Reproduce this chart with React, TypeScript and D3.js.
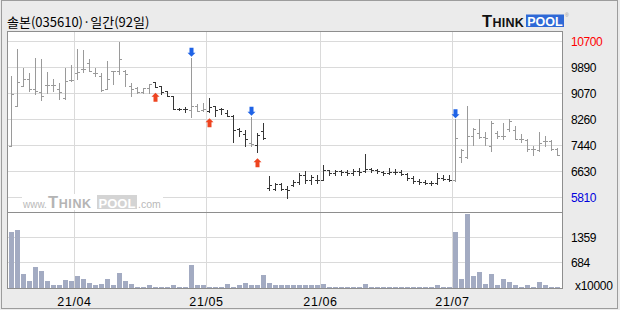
import React from 'react';
import * as d3 from 'd3';

const W = 620;
const H = 310;

const title = '솔본(035610)·일간(92일)';

const open = [
  7440, 8690, 9320, 9530, 9200, 9110, 9350, 9350, 9220, 8940,
  9480, 9720, 9840, 10030, 9720, 9630, 9220, 9770, 9790, 9790,
  9300, 9250, 9110, 9230, 9440, 9300, 9140, 8990, 8590, 8570,
  8550, 8690, 8550, 8520, 8670, 8590, 8470, 8380, 7960, 7790,
  7530, 7470, 7890, 6120, 6080, 6220, 6080, 6190, 6290, 6530,
  6370, 6370, 6370, 6660, 6580, 6630, 6600, 6580, 6630, 6630,
  6690, 6660, 6620, 6580, 6620, 6600, 6550, 6430, 6320, 6290,
  6270, 6250, 6430, 6400, 6370, 7090, 7090, 7750, 7840, 7710,
  7440, 7840, 7750, 7960, 7940, 7630, 7610, 7320, 7290, 7580,
  7580, 7320,
];
const high = [
  9610, 10450, 9880, 9720, 10190, 10160, 9750, 9530, 9410, 9880,
  9960, 10450, 10430, 10160, 9880, 9700, 10100, 9790, 10690, 9800,
  9410, 9280, 9250, 9380, 9440, 9320, 9160, 8990, 8610, 8640,
  10190, 8730, 8760, 8940, 8670, 8620, 8540, 8400, 7980, 7920,
  8340, 7820, 8130, 6480, 6270, 6270, 6160, 6370, 6580, 6630,
  6530, 6500, 6840, 6670, 6670, 6670, 6670, 6690, 6740, 7160,
  6740, 6710, 6630, 6740, 6710, 6670, 6580, 6480, 6400, 6370,
  6320, 6580, 6500, 6500, 8260, 7320, 8690, 8000, 8280, 7860,
  8200, 7890, 8150, 8280, 8050, 7790, 7650, 7440, 7860, 7730,
  7600, 7370,
];
const low = [
  7420, 8670, 9300, 9140, 9040, 8880, 9090, 9140, 8910, 8900,
  9460, 9510, 9740, 9770, 9610, 9140, 9220, 9370, 9670, 9320,
  8990, 9090, 9090, 9090, 9280, 9070, 8990, 8590, 8550, 8500,
  8340, 8520, 8520, 8480, 8360, 8430, 8380, 7540, 7750, 7420,
  7420, 7230, 7650, 6040, 6040, 6040, 5800, 6160, 6220, 6270,
  6220, 6250, 6350, 6530, 6530, 6530, 6500, 6530, 6530, 6620,
  6620, 6580, 6530, 6550, 6550, 6530, 6370, 6270, 6240, 6220,
  6200, 6220, 6350, 6320, 6320, 6920, 7050, 7470, 7680, 7470,
  7260, 7680, 7650, 7890, 7630, 7540, 7260, 7130, 7260, 7440,
  7290, 7130,
];
const close = [
  9070, 9440, 9540, 9200, 9160, 8990, 9350, 9350, 9120, 9460,
  9480, 9740, 9840, 9770, 9720, 9170, 9530, 9770, 10160, 9670,
  9220, 9110, 9230, 9380, 9280, 9110, 8990, 8590, 8570, 8570,
  8690, 8530, 8590, 8650, 8550, 8590, 8380, 7940, 7890, 7650,
  7480, 7780, 7680, 6190, 6220, 6080, 6060, 6290, 6530, 6370,
  6460, 6350, 6660, 6580, 6630, 6600, 6580, 6630, 6600, 6690,
  6660, 6630, 6580, 6620, 6600, 6550, 6430, 6320, 6290, 6270,
  6250, 6430, 6400, 6350, 7680, 7290, 7750, 7960, 7710, 7680,
  8150, 7750, 7730, 8200, 7650, 7630, 7320, 7320, 7530, 7580,
  7320, 7150,
];
const volume = [
  1503, 1566, 378, 189, 567, 467, 189, 81, 81, 216,
  189, 324, 243, 135, 81, 108, 243, 81, 405, 189,
  108, 40, 40, 81, 40, 40, 40, 81, 40, 40,
  621, 81, 81, 40, 40, 40, 108, 40, 81, 135,
  81, 81, 351, 135, 81, 81, 81, 81, 81, 81,
  81, 81, 108, 40, 40, 40, 40, 40, 40, 108,
  40, 40, 40, 40, 40, 40, 40, 40, 40, 40,
  40, 81, 40, 40, 1520, 243, 2000, 324, 440, 108,
  378, 81, 243, 162, 81, 40, 81, 40, 162, 81,
  40, 40,
];

const buySignals = [24, 33, 41];
const sellSignals = [30, 40, 74];

const monthLabels = ['21/04', '21/05', '21/06', '21/07'];
const monthStarts = [11, 33, 52, 74];

const priceTicks = [10700, 9885, 9070, 8255, 7440, 6625, 5810];
const volumeTicks = [1359, 684];
const volumeUnit = 'x10000';

const NUM_FONT = 'Liberation Sans, Arial, sans-serif';

export default function App() {
  const n = close.length;
  const x = d3.scaleLinear().domain([0, n - 1]).range([11.5, 557.5]);
  const y = d3.scaleLinear().domain([5810, 10700]).range([197.5, 41.5]);
  const yv = d3.scaleLinear().domain([0, 2052]).range([288, 212]);

  const plotL = 7.5, plotR = 562.5, plotT = 31.5, plotB = 288.5, sep = 212.5;

  let state = 'sell';
  const colors: string[] = [];
  for (let i = 0; i < n; i++) {
    if (buySignals.includes(i)) state = 'buy';
    if (sellSignals.includes(i)) state = 'sell';
    colors.push(state === 'buy' ? '#363636' : '#9a9a9a');
  }

  const r = (v: number) => Math.round(v);

  const priceColor = (i: number) =>
    i === 0 ? '#ff0000' : i === priceTicks.length - 1 ? '#0000dd' : '#000';

  return (
    <svg width={W} height={H} style={{ position: 'absolute', left: 0, top: 0 }}>
      <rect x={0} y={0} width={W} height={H} fill="#ebebeb" />
      <rect x={1.5} y={0.5} width={616} height={308} fill="none" stroke="#9c9c9c" />
      <rect x={plotL} y={plotT} width={plotR - plotL} height={plotB - plotT} fill="#fff" />

      {/* grid */}
      <g stroke="#dadada" shapeRendering="crispEdges">
        {priceTicks.map((t) => (
          <line key={'pg' + t} x1={plotL} x2={plotR} y1={r(y(t) - 0.5) + 0.5} y2={r(y(t) - 0.5) + 0.5} />
        ))}
        {volumeTicks.map((t) => (
          <line key={'vg' + t} x1={plotL} x2={plotR} y1={Math.floor(yv(t)) + 0.5} y2={Math.floor(yv(t)) + 0.5} />
        ))}
        {monthStarts.map((m) => (
          <line key={'mg' + m} x1={x(m - 0.5)} x2={x(m - 0.5)} y1={plotT} y2={plotB} />
        ))}
      </g>

      {/* watermark */}
      <g>
        <rect x={22} y={194} width={141} height={16} fill="#fff" />
        <text x={23} y={208} fontFamily={NUM_FONT} fontSize={10} fill="#b9b9b9">www.</text>
        <text x={48} y={208} fontFamily={NUM_FONT} fontWeight="bold" fill="#b4b4b4" letterSpacing={0.6}>
          <tspan fontSize={16.5}>T</tspan>
          <tspan fontSize={12.5}>HINK</tspan>
        </text>
        <rect x={97} y={195} width={40} height={14} fill="#d4d4d4" />
        <text x={117} y={207.5} textAnchor="middle" fontFamily={NUM_FONT} fontWeight="bold" fontSize={13} fill="#fff">POOL</text>
        <text x={138} y={208} fontFamily={NUM_FONT} fontSize={10.5} fill="#b9b9b9">.com</text>
      </g>

      {/* volume bars */}
      <g fill="#a3abc2" shapeRendering="crispEdges">
        {volume.map((v, i) => {
          const top = Math.min(yv(v), 287);
          return <rect key={'v' + i} x={x(i) - 2.5} y={top} width={5} height={288 - top} />;
        })}
      </g>

      {/* OHLC bars */}
      <g shapeRendering="crispEdges">
        {close.map((c, i) => {
          const yh = r(y(high[i]));
          const yl = r(y(low[i]));
          const yo = r(y(open[i]));
          const yc = r(y(c));
          const xc = x(i) - 0.5;
          return (
            <g key={'c' + i} fill={colors[i]}>
              <rect x={xc} y={yh} width={1} height={Math.max(1, yl - yh + 1)} />
              <rect x={xc - 2} y={yo} width={2} height={1} />
              <rect x={xc + 1} y={yc} width={2} height={1} />
            </g>
          );
        })}
      </g>

      {/* signals */}
      {buySignals.map((i) => {
        const xc = x(i);
        const t = y(low[i]) + 6;
        return (
          <path key={'b' + i} d={`M${xc},${t} l4,4 h-2 v5 h-4 v-5 h-2 z`} fill="#ee4420" />
        );
      })}
      {sellSignals.map((i) => {
        const xc = x(i);
        const t = y(high[i]) - 1;
        return (
          <path key={'s' + i} d={`M${xc},${t} l4,-4 h-2 v-5 h-4 v5 h-2 z`} fill="#1f63e6" />
        );
      })}

      {/* plot frame */}
      <g fill="none" stroke="#8e8e8e" shapeRendering="crispEdges">
        <rect x={plotL} y={plotT} width={plotR - plotL} height={plotB - plotT} />
        <line x1={plotL} x2={plotR} y1={sep} y2={sep} />
      </g>

      {/* price axis labels */}
      {priceTicks.map((t, i) => (
        <text key={'pl' + t} x={571} y={y(t)} dy="0.36em" fontFamily={NUM_FONT} fontSize={12} letterSpacing={-0.4} fill={priceColor(i)}>
          {String(Math.round(t / 10) * 10)}
        </text>
      ))}
      {volumeTicks.map((t) => (
        <text key={'vl' + t} x={571} y={Math.floor(yv(t)) + 0.5} dy="0.36em" fontFamily={NUM_FONT} fontSize={12} letterSpacing={-0.4} fill="#000">
          {String(t)}
        </text>
      ))}
      <text x={575} y={286} dy="0.36em" fontFamily={NUM_FONT} fontSize={12} letterSpacing={-0.3} fill="#000">{volumeUnit}</text>

      {/* month labels */}
      {monthStarts.map((m, i) => (
        <text key={'ml' + m} x={x(m - 0.5)} y={305.5} textAnchor="middle" fontFamily={NUM_FONT} fontSize={12.5} letterSpacing={0.6} fill="#000">
          {monthLabels[i]}
        </text>
      ))}

      {/* title */}
      <text x={7} y={27} fontFamily="'Noto Sans CJK KR', sans-serif" fontSize={13} fill="#000">{title}</text>

      {/* logo */}
      <g>
        <text x={482} y={27} fontFamily={NUM_FONT} fontWeight="bold" fill="#111" letterSpacing={0.3}>
          <tspan fontSize={16.5}>T</tspan>
          <tspan fontSize={12.5}>HINK</tspan>
        </text>
        <rect x={526} y={14.5} width={38} height={12.5} fill="#2f69d6" />
        <text x={545} y={26} textAnchor="middle" fontFamily={NUM_FONT} fontWeight="bold" fontSize={12.5} fill="#fff">POOL</text>
        <text x={565} y={17} fontFamily={NUM_FONT} fontSize={5} fill="#999">®</text>
      </g>
    </svg>
  );
}
